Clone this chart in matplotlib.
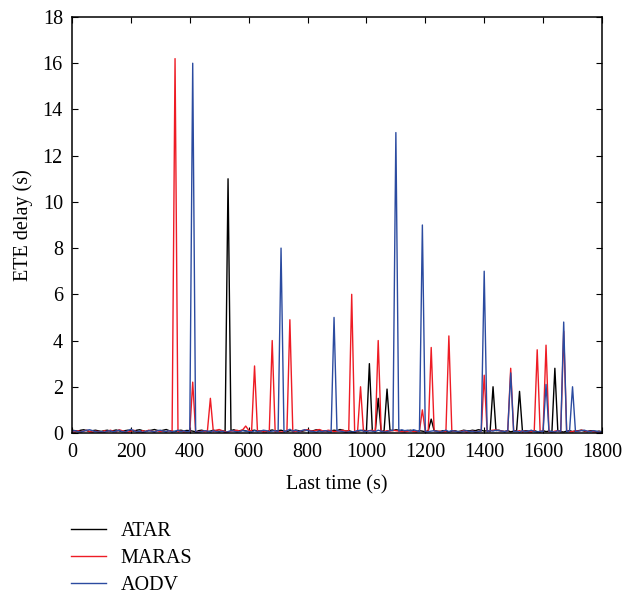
import matplotlib
matplotlib.use('Agg')
import matplotlib.pyplot as plt
import numpy as np

plt.rcParams['font.family'] = ['Liberation Serif', 'DejaVu Serif']

# sample times (s), every 10 s
time = np.arange(0, 1801, 10)

atar = [
    0.12, 0.10, 0.08, 0.12, 0.14, 0.10, 0.06, 0.10, 0.12, 0.09,
    0.07, 0.10, 0.12, 0.08, 0.10, 0.13, 0.09, 0.06, 0.10, 0.12,
    0.10, 0.08, 0.12, 0.14, 0.10, 0.07, 0.10, 0.12, 0.15, 0.11,
    0.09, 0.12, 0.15, 0.10, 0.08, 0.06, 0.10, 0.12, 0.09, 0.11,
    0.10, 0.08, 0.05, 0.10, 0.12, 0.09, 0.06, 0.08, 0.12, 0.10,
    0.07, 0.10, 0.06, 11.0, 0.10, 0.14, 0.08, 0.10, 0.12, 0.09,
    0.06, 0.10, 0.12, 0.08, 0.10, 0.07, 0.05, 0.10, 0.13, 0.09,
    0.10, 0.12, 0.08, 0.06, 0.10, 0.09, 0.12, 0.10, 0.07, 0.10,
    0.12, 0.09, 0.10, 0.14, 0.12, 0.08, 0.10, 0.06, 0.09, 0.12,
    0.10, 0.15, 0.12, 0.08, 0.10, 0.06, 0.03, 0.08, 0.10, 0.12,
    0.08, 3.0, 0.10, 0.05, 1.5, 0.05, 0.10, 1.9, 0.12, 0.10,
    0.14, 0.12, 0.10, 0.08, 0.10, 0.12, 0.09, 0.06, 0.10, 0.08,
    0.05, 0.10, 0.6, 0.10, 0.08, 0.06, 0.10, 0.07, 0.05, 0.08,
    0.10, 0.06, 0.08, 0.12, 0.10, 0.09, 0.12, 0.10, 0.14, 0.12,
    0.08, 0.10, 0.06, 2.0, 0.10, 0.12, 0.08, 0.06, 0.10, 0.05,
    0.08, 0.10, 1.8, 0.06, 0.10, 0.08, 0.05, 0.10, 0.06, 0.04,
    0.10, 0.06, 0.08, 0.05, 2.8, 0.10, 0.06, 0.04, 0.08, 0.10,
    0.06, 0.08, 0.10, 0.12, 0.08, 0.06, 0.10, 0.09, 0.06, 0.08,
    0.05]

maras = [
    0.06, 0.04, 0.10, 0.05, 0.08, 0.12, 0.06, 0.03, 0.08, 0.06,
    0.04, 0.10, 0.06, 0.12, 0.08, 0.05, 0.14, 0.10, 0.06, 0.04,
    0.08, 0.12, 0.05, 0.04, 0.10, 0.06, 0.12, 0.08, 0.05, 0.10,
    0.06, 0.08, 0.04, 0.10, 0.06, 16.2, 0.05, 0.08, 0.04, 0.06,
    0.05, 2.2, 0.02, 0.04, 0.08, 0.06, 0.10, 1.5, 0.06, 0.12,
    0.15, 0.10, 0.06, 0.04, 0.08, 0.10, 0.12, 0.08, 0.14, 0.30,
    0.12, 0.08, 2.9, 0.06, 0.10, 0.04, 0.08, 0.06, 4.0, 0.05,
    0.08, 0.04, 0.06, 0.10, 4.9, 0.05, 0.08, 0.06, 0.10, 0.12,
    0.14, 0.10, 0.08, 0.12, 0.15, 0.10, 0.08, 0.12, 0.10, 0.06,
    0.08, 0.10, 0.12, 0.08, 0.10, 6.0, 0.06, 0.08, 2.0, 0.06,
    0.08, 0.10, 0.12, 0.06, 4.0, 0.08, 0.06, 0.10, 0.08, 0.12,
    0.10, 0.08, 0.06, 0.04, 0.08, 0.10, 0.06, 0.05, 0.08, 1.0,
    0.06, 0.08, 3.7, 0.10, 0.06, 0.08, 0.04, 0.06, 4.2, 0.10,
    0.08, 0.05, 0.06, 0.10, 0.04, 0.06, 0.08, 0.05, 0.06, 0.08,
    2.5, 0.06, 0.10, 0.12, 0.14, 0.10, 0.08, 0.06, 0.10, 2.8,
    0.08, 0.06, 0.10, 0.05, 0.08, 0.04, 0.06, 0.10, 3.6, 0.05,
    0.08, 3.8, 0.06, 0.04, 0.08, 0.10, 0.06, 4.4, 0.08, 0.05,
    0.06, 0.10, 0.08, 0.12, 0.10, 0.06, 0.08, 0.05, 0.04, 0.06,
    0.04]

aodv = [
    0.08, 0.10, 0.06, 0.04, 0.08, 0.12, 0.14, 0.10, 0.06, 0.04,
    0.06, 0.03, 0.08, 0.10, 0.05, 0.08, 0.12, 0.06, 0.04, 0.10,
    0.16, 0.10, 0.04, 0.08, 0.02, 0.06, 0.10, 0.08, 0.04, 0.10,
    0.12, 0.08, 0.06, 0.10, 0.04, 0.08, 0.12, 0.06, 0.10, 0.05,
    0.08, 16.0, 0.02, 0.04, 0.06, 0.10, 0.08, 0.04, 0.10, 0.06,
    0.04, 0.08, 0.02, 0.06, 0.10, 0.08, 0.04, 0.06, 0.10, 0.08,
    0.06, 0.04, 0.10, 0.06, 0.08, 0.12, 0.10, 0.06, 0.08, 0.10,
    0.06, 8.0, 0.04, 0.10, 0.16, 0.08, 0.12, 0.06, 0.10, 0.14,
    0.10, 0.08, 0.06, 0.04, 0.08, 0.06, 0.10, 0.08, 0.04, 5.0,
    0.10, 0.08, 0.06, 0.02, 0.05, 0.04, 0.06, 0.10, 0.12, 0.08,
    0.06, 0.10, 0.08, 0.06, 0.12, 0.08, 0.04, 0.06, 0.10, 0.12,
    13.0, 0.08, 0.14, 0.10, 0.12, 0.08, 0.14, 0.10, 0.06, 9.0,
    0.04, 0.06, 0.08, 0.10, 0.06, 0.04, 0.08, 0.12, 0.06, 0.10,
    0.08, 0.06, 0.04, 0.08, 0.10, 0.06, 0.08, 0.04, 0.06, 0.08,
    7.0, 0.06, 0.10, 0.08, 0.12, 0.10, 0.08, 0.06, 0.10, 2.6,
    0.06, 0.08, 0.04, 0.10, 0.06, 0.08, 0.12, 0.06, 0.04, 0.08,
    0.06, 2.1, 0.08, 0.06, 0.04, 0.10, 0.06, 4.8, 0.04, 0.10,
    2.0, 0.06, 0.08, 0.10, 0.12, 0.08, 0.06, 0.10, 0.08, 0.04,
    0.06]

fs = 14.5

fig = plt.figure(figsize=(6.36, 5.95), dpi=100)
ax = fig.add_axes([0.1132, 0.2723, 0.8333, 0.6991])

ax.plot(time, atar, color='black', lw=1.0, label='ATAR')
ax.plot(time, maras, color='#ee1c25', lw=1.0, label='MARAS')
ax.plot(time, aodv, color='#2b4ba0', lw=1.0, label='AODV')

ax.set_xlim(0, 1800)
ax.set_ylim(0, 18)
ax.set_xticks(np.arange(0, 1801, 200))
ax.set_yticks(np.arange(0, 19, 2))
ax.tick_params(direction='in', top=True, right=True, length=4, labelsize=fs)
ax.tick_params(axis='x', pad=7.5)
ax.tick_params(axis='y', pad=6.5)
for s in ax.spines.values():
    s.set_linewidth(1.1)
ax.set_xlabel('Last time (s)', fontsize=fs, labelpad=9)
ax.set_ylabel('ETE delay (s)', fontsize=fs, labelpad=7)

fig.legend(loc='upper left', bbox_to_anchor=(71 / 636, 1 - 522 / 595),
           frameon=False, fontsize=fs, handlelength=1.75,
           handletextpad=0.7, labelspacing=0.4, borderpad=0, borderaxespad=0)

plt.savefig('out.png', dpi=100)
